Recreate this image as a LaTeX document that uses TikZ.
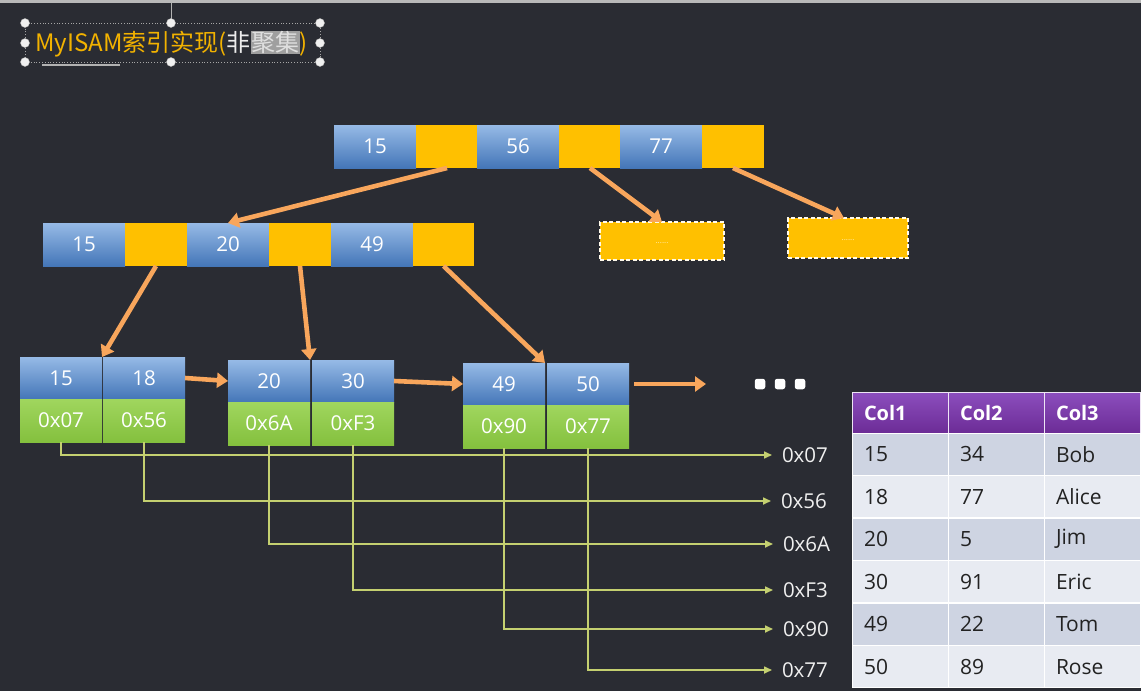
\documentclass[tikz,border=0pt]{standalone}
\usepackage{fontspec}
\setmainfont{Open Sans}
\newfontfamily\cjk{Noto Sans CJK SC}
\usetikzlibrary{arrows.meta}
\definecolor{bg}{RGB}{42,44,51}
\definecolor{bluetop}{RGB}{150,186,230}
\definecolor{bluebot}{RGB}{68,118,184}
\definecolor{gold}{RGB}{255,192,0}
\definecolor{gtop}{RGB}{160,214,94}
\definecolor{gbot}{RGB}{132,192,62}
\definecolor{org}{RGB}{248,166,92}
\definecolor{ptr}{RGB}{196,208,112}
\definecolor{ptop}{RGB}{140,78,190}
\definecolor{pbot}{RGB}{108,44,150}
\definecolor{rowA}{RGB}{206,212,226}
\definecolor{rowB}{RGB}{232,235,242}
\definecolor{ttl}{RGB}{242,178,0}
\definecolor{tdark}{RGB}{34,34,34}
\begin{document}
\begin{tikzpicture}[x=1pt,y=-1pt,
  cellbase/.style={anchor=north west, inner sep=0pt, outer sep=0pt, font=\fontsize{20.5}{24}\selectfont, text=white},
  bcell/.style={cellbase, minimum width=82pt, minimum height=43pt, top color=bluetop, bottom color=bluebot},
  ycell/.style={cellbase, minimum width=62pt, minimum height=43pt, fill=gold},
  lblue/.style={cellbase, minimum width=82pt, minimum height=42pt, top color=bluetop, bottom color=bluebot},
  lgreen/.style={cellbase, minimum width=82pt, minimum height=43pt, top color=gtop, bottom color=gbot},
  dbox/.style={anchor=north west, inner sep=0pt, outer sep=0pt, fill=gold, draw=white!92!gold, dash pattern=on 4pt off 2.5pt, line width=1.6pt, font=\fontsize{8}{8}\selectfont, text=white!70!gold},
  oarrow/.style={draw=org, line width=4.6pt, -{Triangle[width=15pt,length=11pt]}},
  parrow/.style={draw=ptr, line width=1.6pt, -{Triangle[width=7pt,length=8pt]}},
  plabel/.style={anchor=west, inner sep=0pt, outer sep=0pt, font=\fontsize{20.5}{24}\selectfont, text=white!94!black},
  dotsq/.style={fill=white, rounded corners=2.5pt, minimum size=10.5pt, inner sep=0pt},
  thead/.style={anchor=north west, inner sep=0pt, outer sep=0pt, minimum width=96pt, minimum height=41pt, top color=ptop, bottom color=pbot, draw=white!85!ptop, line width=1pt, font=\bfseries\fontsize{20}{22}\selectfont, text=white, text width=72pt, align=left},
  tcell/.style={anchor=north west, inner sep=0pt, outer sep=0pt, minimum width=96pt, minimum height=42.4pt, draw=white, line width=1pt, font=\fontsize{21}{22}\selectfont, text=tdark, text width=72pt, align=left},
  handle/.style={circle, inner sep=0pt, minimum size=9pt, fill=white!88!gray, draw=gray!60}
]
\useasboundingbox (0,0) rectangle (1141,691);
\fill[bg] (0,0) rectangle (1141,691);
\fill[gray!55] (0,0) rectangle (1141,3);

% title with selection frame
\draw[gray!60, line width=0.8pt] (171,3) -- (171,23);
\draw[gray!70, dotted, line width=0.8pt] (25,23) rectangle (320,62);
\draw[gray!60, line width=1.2pt] (42,65) -- (120,65);
\node[anchor=west, inner sep=0pt, font=\cjk\fontsize{24}{28}\selectfont, text=ttl] (title) at (35,44)
  {MyISAM索引实现(\textcolor{white!85!gray}{非}{\setlength{\fboxsep}{0.5pt}\colorbox{gray!75}{\textcolor{white!75!gray}{聚集}}})};
\foreach \hx/\hy [count=\k] in {25/23,171/23,320/23,25/43,320/43,25/62,171/62,320/62}
  \node[handle] (hd\k) at (\hx,\hy) {};

% root node
\node[bcell] (r1) at (334,125) {15};
\node[ycell] (r1p) at (416,125) {};
\node[bcell] (r2) at (477,125) {56};
\node[ycell] (r2p) at (559,125) {};
\node[bcell] (r3) at (620,125) {77};
\node[ycell] (r3p) at (702,125) {};

% level 2
\node[bcell] (m1) at (43,223) {15};
\node[ycell] (m1p) at (125,223) {};
\node[bcell] (m2) at (187,223) {20};
\node[ycell] (m2p) at (269,223) {};
\node[bcell] (m3) at (331,223) {49};
\node[ycell, minimum width=61pt] (m3p) at (413,223) {};

% dashed placeholder boxes
\node[dbox, minimum width=124pt, minimum height=38pt] (d1) at (600,222) {\raisebox{-5pt}{......}};
\node[dbox, minimum width=120pt, minimum height=40pt] (d2) at (788,218) {\raisebox{-5pt}{......}};

% leaves
\node[lblue] (a1) at (20,357) {15};
\node[lblue] (b1) at (103,357) {18};
\node[lgreen] (a2) at (20,399) {0x07};
\node[lgreen] (b2) at (103,399) {0x56};
\node[lblue] (c1) at (228,360) {20};
\node[lblue] (d1l) at (312,360) {30};
\node[lgreen] (c2) at (228,402) {0x6A};
\node[lgreen] (d2l) at (312,402) {0xF3};
\node[lblue] (e1) at (463,363) {49};
\node[lblue] (f1) at (547,363) {50};
\node[lgreen] (e2) at (463,405) {0x90};
\node[lgreen] (f2) at (547,405) {0x77};

% tree arrows
\draw[oarrow] (r1p.south) -- (m2.north);
\draw[oarrow] (r2p.south) -- (d1.north);
\draw[oarrow] (r3p.south) -- ([xshift=-4pt]d2.north);
\draw[oarrow] (m1p.south) -- (a1.north east);
\draw[oarrow] (m2p.south) -- (c1.north east);
\draw[oarrow] (m3p.south) -- (e1.north east);

% leaf links
\coordinate (cont) at (706,384);
\draw[oarrow] (b1.east) -- (c1.west);
\draw[oarrow] (d1l.east) -- (e1.west);
\draw[oarrow, shorten <=5pt] (f1.east) -- (cont);
\node[dotsq] (k1) at (760,384) {};
\node[dotsq] (k2) at (780,384) {};
\node[dotsq] (k3) at (800,384) {};

% pointer labels
\node[plabel] (p1) at (782,455) {0x07};
\node[plabel] (p2) at (781,501) {0x56};
\node[plabel] (p3) at (783,544) {0x6A};
\node[plabel] (p4) at (783,590) {0xF3};
\node[plabel] (p5) at (783,629) {0x90};
\node[plabel] (p6) at (782,670) {0x77};
\draw[parrow, shorten >=10pt] (a2.south) |- (p1.west);
\draw[parrow, shorten >=10pt] (b2.south) |- (p2.west);
\draw[parrow, shorten >=10pt] (c2.south) |- (p3.west);
\draw[parrow, shorten >=10pt] (d2l.south) |- (p4.west);
\draw[parrow, shorten >=10pt] (e2.south) |- (p5.west);
\draw[parrow, shorten >=10pt] (f2.south) |- (p6.west);

% table
\node[thead] (h1) at (852,392) {Col1};
\node[thead] (h2) at (948,392) {Col2};
\node[thead] (h3) at (1044,392) {Col3};
\foreach \a/\b/\c/\rc [count=\i] in {15/34/Bob/rowA,18/77/Alice/rowB,20/5/Jim/rowA,30/91/Eric/rowB,49/22/Tom/rowA,50/89/Rose/rowB}{
  \node[tcell, fill=\rc] (t\i a) at (852,{433+(\i-1)*42.5}) {\a};
  \node[tcell, fill=\rc] (t\i b) at (948,{433+(\i-1)*42.5}) {\b};
  \node[tcell, fill=\rc] (t\i c) at (1044,{433+(\i-1)*42.5}) {\c};
}
\end{tikzpicture}
\end{document}
